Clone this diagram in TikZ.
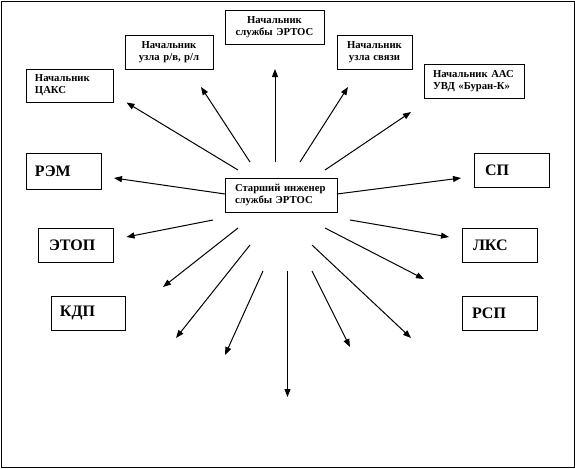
\documentclass[tikz,border=0pt]{standalone}
\usepackage{fontspec}
\setmainfont{Liberation Serif}
\newfontfamily\tnr{Liberation Serif}
\usetikzlibrary{arrows.meta}
\begin{document}
\begin{tikzpicture}[x=0.75pt,y=-0.75pt,
  box/.style={draw, line width=0.75pt, inner ysep=0pt, font=\tnr\bfseries\fontsize{8}{8.8}\selectfont},
  bigbox/.style={draw, line width=0.75pt, inner ysep=0pt, font=\tnr\bfseries\fontsize{12}{14}\selectfont},
  arr/.style={line width=0.75pt, -{Triangle[length=6pt,width=4.5pt]}}]
\useasboundingbox (0,0) rectangle (575,468);
\node[draw, line width=0.75pt, minimum width=573*0.75pt, minimum height=466*0.75pt, inner sep=0pt] (frame) at (287.5,234) {};
% small boxes
\node[box, minimum height=34*0.75pt, text width=93*0.75pt, inner xsep=3*0.75pt, align=center] (ertos) at (274.5,27) {Начальник\\службы ЭРТОС};
\node[box, minimum height=34*0.75pt, text width=82*0.75pt, inner xsep=3*0.75pt, align=center] (rv) at (169,52) {Начальник\\узла р/в, р/л};
\node[box, minimum height=34*0.75pt, text width=69*0.75pt, inner xsep=3*0.75pt, align=center] (sv) at (374.5,52) {Начальник\\узла связи};
\node[box, minimum height=33*0.75pt, text width=69*0.75pt, inner xsep=9*0.75pt, align=left] (caks) at (69.5,85.5) {Начальник\\ЦАКС};
\node[box, minimum height=34*0.75pt, text width=82*0.75pt, inner xsep=9*0.75pt, align=left] (buran) at (474,81) {Начальник ААС\\УВД «Буран-К»};
\node[box, minimum height=34*0.75pt, text width=92*0.75pt, inner xsep=10*0.75pt, align=left] (center) at (281,195) {Старший инженер\\службы ЭРТОС};
% big boxes
\node[bigbox, minimum height=36*0.75pt, text width=57*0.75pt, inner xsep=9*0.75pt, align=left] (rem) at (63.5,171) {РЭМ};
\node[bigbox, minimum height=34*0.75pt, text width=53*0.75pt, inner xsep=11*0.75pt, align=left] (sp) at (511.5,170) {СП};
\node[bigbox, minimum height=34*0.75pt, text width=53*0.75pt, inner xsep=11*0.75pt, align=left] (etop) at (75.5,245) {ЭТОП};
\node[bigbox, minimum height=34*0.75pt, text width=53*0.75pt, inner xsep=11*0.75pt, align=left] (lks) at (499.5,245) {ЛКС};
\node[bigbox, minimum height=34*0.75pt, text width=56*0.75pt, inner xsep=9*0.75pt, align=left] (kdp) at (88,313) {КДП};
\node[bigbox, minimum height=34*0.75pt, text width=55*0.75pt, inner xsep=10*0.75pt, align=left] (rsp) at (499.5,313) {РСП};
% arrow end points
\coordinate (s1) at (238,170);   \coordinate (e1) at (126.5,102.5);
\coordinate (s2) at (250,162);   \coordinate (e2) at (201,87);
\coordinate (s3) at (275,162);   \coordinate (e3) at (275,69);
\coordinate (s4) at (300,162);   \coordinate (e4) at (348,87);
\coordinate (s5) at (325,170);   \coordinate (e5) at (411,112);
\coordinate (s6) at (225,194);   \coordinate (e6) at (114,178);
\coordinate (s7) at (337,194);   \coordinate (e7) at (461,178);
\coordinate (s8) at (213,220);   \coordinate (e8) at (126.5,237);
\coordinate (s9) at (350,220);   \coordinate (e9) at (449,237);
\coordinate (s10) at (238,228);  \coordinate (e10) at (163,287);
\coordinate (s11) at (325,228);  \coordinate (e11) at (424,279);
\coordinate (s12) at (250,245);  \coordinate (e12) at (176,338);
\coordinate (s13) at (312,245);  \coordinate (e13) at (411,338);
\coordinate (s14) at (263,271);  \coordinate (e14) at (225,355);
\coordinate (s15) at (312,271);  \coordinate (e15) at (350,347);
\coordinate (s16) at (287.5,271); \coordinate (e16) at (287.5,397);
\foreach \i in {1,...,16} {\draw[arr] (s\i) -- (e\i);}
\end{tikzpicture}
\end{document}
